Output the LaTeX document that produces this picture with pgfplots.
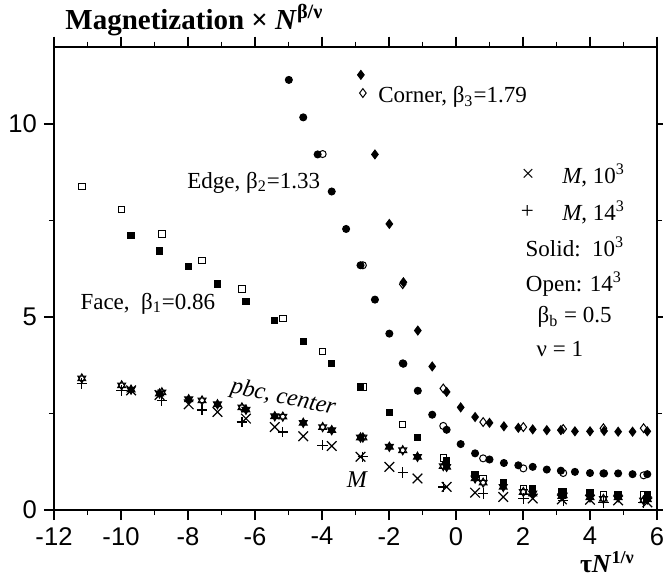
\documentclass[border=0pt]{standalone}
\usepackage{pgfplots}
\pgfplotsset{compat=1.18}
\usepackage{fontspec}
\setmainfont{Liberation Serif}
\setsansfont{Liberation Sans}

\pgfdeclareplotmark{hexagram}{%
  \pgfpathmoveto{\pgfpointpolar{90}{\pgfplotmarksize}}%
  \pgfpathlineto{\pgfpointpolar{210}{\pgfplotmarksize}}%
  \pgfpathlineto{\pgfpointpolar{330}{\pgfplotmarksize}}%
  \pgfpathclose
  \pgfpathmoveto{\pgfpointpolar{270}{\pgfplotmarksize}}%
  \pgfpathlineto{\pgfpointpolar{30}{\pgfplotmarksize}}%
  \pgfpathlineto{\pgfpointpolar{150}{\pgfplotmarksize}}%
  \pgfpathclose
  \pgfusepathqfillstroke
}

\begin{document}
\begin{tikzpicture}
\begin{axis}[
  name=ax,
  scale only axis,
  width=301.5pt, height=231.7pt,
  xmin=-12, xmax=6, ymin=0, ymax=12,
  xtick={-12,-10,...,6}, ytick={0,5,10},
  minor x tick num=1, minor y tick num=1,
  tick align=outside,
  major tick length=5pt, minor tick length=2.5pt,
  axis line style={line width=1pt},
  tick style={line width=0.9pt, black},
  /pgf/number format/assume math mode=true,
  ticklabel style={font=\sffamily\fontsize{12.8}{14}\selectfont},
  clip=false,
  every axis plot/.append style={only marks, line width=0.5pt},
]
% open squares (14^3)
\addplot[mark=square*, mark size=1.6pt, mark options={fill=white, draw=black}] table {
-11.17 8.38
-9.98 7.78
-8.78 7.15
-7.58 6.47
-6.39 5.73
-5.17 4.96
-3.98 4.11
-2.78 3.19
-1.59 2.22
-0.38 1.35
0.81 0.82
2.01 0.56
3.20 0.47
4.40 0.41
5.60 0.39
};
% open circles
\addplot[mark=*, mark size=1.75pt, mark options={fill=white, draw=black}] table {
-3.98 9.22
-2.78 6.34
-1.59 3.80
-0.38 2.18
0.81 1.34
2.01 1.08
3.20 0.96
4.40 0.95
5.60 0.90
};
% open diamonds
\addplot[mark=diamond*, mark size=2.2pt, mark options={fill=white, draw=black}] table {
-2.78 10.80
-1.59 5.85
-0.38 3.15
0.81 2.28
2.01 2.15
3.20 2.10
4.40 2.12
5.60 2.12
};
% open hexagrams (pbc center 14^3)
\addplot[mark=hexagram, mark size=2.3pt, mark options={fill=white, draw=black}] table {
-11.17 3.41
-9.98 3.23
-8.78 3.05
-7.58 2.84
-6.39 2.66
-5.17 2.42
-3.98 2.15
-2.78 1.88
-1.59 1.55
-0.38 1.14
0.81 0.71
2.01 0.47
3.20 0.38
4.40 0.29
5.60 0.25
};
% + : M, 14^3
\addplot[mark=+, mark size=2.6pt, mark options={draw=black, line width=0.6pt}] table {
-11.17 3.28
-9.98 3.10
-8.78 2.84
-7.58 2.59
-6.39 2.28
-5.17 2.02
-3.98 1.68
-2.78 1.38
-1.59 0.97
-0.38 0.60
0.81 0.43
2.01 0.30
3.20 0.24
4.40 0.20
5.60 0.20
};
% x : M, 10^3
\addplot[mark=x, mark size=3.4pt, mark options={draw=black, line width=0.6pt}] table {
-9.70 3.10
-8.85 2.98
-7.98 2.74
-7.12 2.54
-6.27 2.37
-5.41 2.15
-4.56 1.91
-3.71 1.66
-2.85 1.38
-1.99 1.12
-1.15 0.82
-0.28 0.60
0.57 0.45
1.41 0.34
2.29 0.30
3.16 0.28
4.00 0.27
4.84 0.25
5.71 0.20
};
% solid squares (10^3)
\addplot[mark=square*, mark size=1.6pt, mark options={fill=black, draw=black}] table {
-9.70 7.11
-8.85 6.71
-7.98 6.31
-7.12 5.86
-6.27 5.40
-5.41 4.91
-4.56 4.37
-3.71 3.80
-2.85 3.19
-1.99 2.53
-1.15 1.88
-0.28 1.29
0.57 0.92
1.41 0.71
2.29 0.56
3.16 0.47
4.00 0.45
4.84 0.41
5.71 0.41
};
% solid circles
\addplot[mark=*, mark size=1.75pt, mark options={fill=black, draw=black}] table {
-4.99 11.14
-4.56 10.17
-4.13 9.21
-3.71 8.25
-3.28 7.28
-2.85 6.34
-2.42 5.45
-1.99 4.57
-1.57 3.79
-1.14 3.09
-0.71 2.47
-0.28 2.08
0.14 1.71
0.57 1.47
1.00 1.31
1.43 1.22
1.86 1.16
2.29 1.12
2.71 1.05
3.13 1.02
3.55 0.99
4.00 0.96
4.42 0.95
4.84 0.95
5.27 0.93
5.71 0.93
};
% solid diamonds
\addplot[mark=diamond*, mark size=2.2pt, mark options={fill=black, draw=black}] table {
-2.84 11.27
-2.42 9.21
-1.99 7.41
-1.57 5.90
-1.14 4.65
-0.71 3.72
-0.28 3.06
0.14 2.66
0.57 2.41
1.00 2.26
1.43 2.17
1.86 2.13
2.29 2.09
2.71 2.07
3.13 2.07
3.55 2.04
4.00 2.04
4.42 2.05
4.84 2.03
5.27 2.03
5.71 2.04
};
% solid hexagrams (pbc center 10^3)
\addplot[mark=hexagram, mark size=2.3pt, mark options={fill=black, draw=black}] table {
-9.70 3.12
-8.85 3.02
-7.98 2.87
-7.12 2.74
-6.27 2.60
-5.41 2.43
-4.56 2.26
-3.71 2.07
-2.85 1.88
-1.99 1.64
-1.15 1.38
-0.28 1.12
0.57 0.82
1.41 0.60
2.29 0.43
3.16 0.36
4.00 0.33
4.84 0.33
5.71 0.28
};

% annotations
\begin{scope}[every node/.style={font=\fontsize{11.5}{13}\selectfont, inner sep=0pt}]
\node[anchor=west] at (axis cs:-2.33,10.69) {Corner, β\textsubscript{3}=1.79};
\node[anchor=west] at (axis cs:-8.03,8.48) {Edge, β\textsubscript{2}=1.33};
\node[anchor=west] at (axis cs:-11.22,5.35) {Face,\ \ β\textsubscript{1}=0.86};
\node[rotate=-12, font=\itshape\fontsize{12}{13}\selectfont] at (axis cs:-5.16,2.90) {pbc, center};
\node[font=\itshape\fontsize{12}{13}\selectfont] at (axis cs:-2.96,0.78) {M};
\node at (axis cs:2.15,8.66) {×};
\node[anchor=west] at (axis cs:3.16,8.66) {\textit{M}, 10\textsuperscript{3}};
\node at (axis cs:2.13,7.71) {+};
\node[anchor=west] at (axis cs:3.16,7.71) {\textit{M}, 14\textsuperscript{3}};
\node at (axis cs:3.55,6.81) {Solid:\ \ 10\textsuperscript{3}};
\node at (axis cs:3.52,5.86) {Open: 14\textsuperscript{3}};
\node at (axis cs:3.54,5.00) {β\textsubscript{b} = 0.5};
\node at (axis cs:3.10,4.18) {ν = 1};
\end{scope}
\node[anchor=west, font=\bfseries\fontsize{14.5}{16}\selectfont, inner sep=0pt, xshift=5.5pt, yshift=13.3pt] at (rel axis cs:0,1) {Magnetization × \textit{N}\textsuperscript{β/ν}};
\node[font=\bfseries\fontsize{13}{15}\selectfont, inner sep=0pt] at (axis cs:4.52,-1.34) {τ\textit{N}\textsuperscript{1/ν}};
\end{axis}
\pgfresetboundingbox
\path[use as bounding box] ([shift={(-27pt,-33.5pt)}]ax.south west) rectangle ([shift={(3pt,23.35pt)}]ax.north east);
\end{tikzpicture}
\end{document}
